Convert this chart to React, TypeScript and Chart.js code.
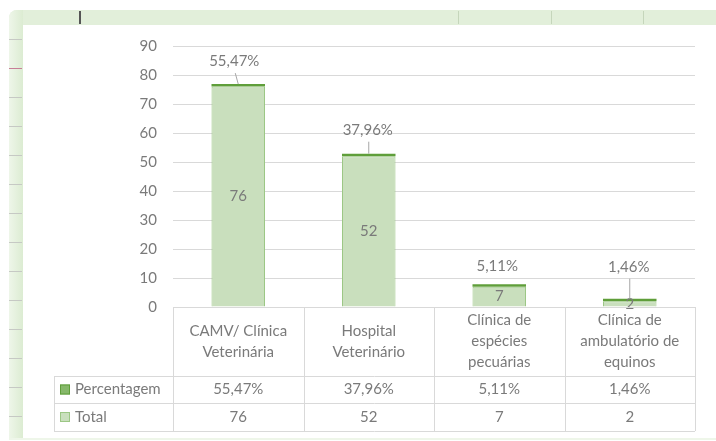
import React, { useEffect, useRef } from "react";
import { Chart, registerables } from "chart.js";

Chart.register(...registerables);

// ---- data ----
const categories: string[][] = [
  ["CAMV/ Clínica", "Veterinária"],
  ["Hospital", "Veterinário"],
  ["Clínica de", "espécies", "pecuárias"],
  ["Clínica de", "ambulatório de", "equinos"],
];
const totals = [76, 52, 7, 2];
const percentages = [55.47, 37.96, 5.11, 1.46];
const percentLabels = ["55,47%", "37,96%", "5,11%", "1,46%"];
const seriesNames = ["Percentagem", "Total"];
const yMin = 0;
const yMax = 90;
const yStep = 10;

// ---- styles ----
const FONT = 'Lato, "Open Sans", "Liberation Sans", sans-serif';
const FONT_SIZE = 15;
const TEXT = "#7a7a7a";
const GRID = "#d9d9d9";
const FILL = "#c9dfbd";
const BORDER = "#9cc785";
const DARK = "#5f9e3a";
const KEY_DARK_FILL = "#86b86a";
const LABEL_LIFT = [23, 24, 18, 32];
const LABEL_SHIFT = [-4, -1, -2, -1];

const tablePlugin = {
  id: "excelTable",
  afterDraw(chart: any) {
    const { ctx, chartArea } = chart;
    const x = chart.scales.x;
    const left = chartArea.left;
    const right = chartArea.right;
    const top = chartArea.bottom;
    const headerBottom = top + 69;
    const row1Bottom = headerBottom + 27;
    const row2Bottom = row1Bottom + 28;
    const legendLeft = 54;
    const n = categories.length;
    const step = (right - left) / n;

    ctx.save();
    ctx.strokeStyle = GRID;
    ctx.lineWidth = 1;
    const h = (x1: number, x2: number, y: number) => {
      ctx.beginPath();
      ctx.moveTo(x1, Math.round(y) + 0.5);
      ctx.lineTo(x2, Math.round(y) + 0.5);
      ctx.stroke();
    };
    const v = (xx: number, y1: number, y2: number) => {
      ctx.beginPath();
      ctx.moveTo(Math.round(xx) + 0.5, y1);
      ctx.lineTo(Math.round(xx) + 0.5, y2);
      ctx.stroke();
    };
    h(left, right, top);
    h(legendLeft, right, headerBottom);
    h(legendLeft, right, row1Bottom);
    h(legendLeft, right, row2Bottom);
    for (let i = 0; i <= n; i++) v(left + i * step, top, row2Bottom);
    v(legendLeft, headerBottom, row2Bottom);

    ctx.fillStyle = TEXT;
    ctx.font = FONT_SIZE + "px " + FONT;
    ctx.textAlign = "center";
    ctx.textBaseline = "middle";
    const headerMid = (top + headerBottom) / 2;
    const r1 = (headerBottom + row1Bottom) / 2;
    const r2 = (row1Bottom + row2Bottom) / 2;
    categories.forEach((lines, i) => {
      const cx = x.getPixelForValue(i);
      const lh = 21;
      const start = headerMid - ((lines.length - 1) * lh) / 2;
      lines.forEach((ln, j) => ctx.fillText(ln, cx, start + j * lh));
      ctx.fillText(percentLabels[i], cx, r1);
      ctx.fillText(String(totals[i]), cx, r2);
    });

    // legend keys
    ctx.textAlign = "left";
    const keyX = 60;
    const drawKey = (cy: number, fill: string, stroke: string) => {
      ctx.fillStyle = fill;
      ctx.fillRect(keyX, cy - 5, 10, 10);
      ctx.strokeStyle = stroke;
      ctx.strokeRect(keyX + 0.5, cy - 4.5, 9, 9);
    };
    drawKey(r1, KEY_DARK_FILL, DARK);
    drawKey(r2, FILL, BORDER);
    ctx.fillStyle = TEXT;
    ctx.fillText(seriesNames[0], 75, r1);
    ctx.fillText(seriesNames[1], 75, r2);
    ctx.restore();
  },
};

const labelPlugin = {
  id: "barLabels",
  afterDatasetsDraw(chart: any) {
    const { ctx } = chart;
    const totalMeta = chart.getDatasetMeta(0);
    const pctMeta = chart.getDatasetMeta(1);
    ctx.save();
    ctx.font = FONT_SIZE + "px " + FONT;
    ctx.fillStyle = TEXT;
    ctx.textAlign = "center";
    ctx.textBaseline = "middle";
    totalMeta.data.forEach((el: any, i: number) => {
      ctx.fillText(String(totals[i]), el.x, (el.y + el.base) / 2);
    });
    pctMeta.data.forEach((el: any, i: number) => {
      const tx = el.x + LABEL_SHIFT[i];
      const ty = el.y - LABEL_LIFT[i];
      ctx.fillText(percentLabels[i], tx, ty);
      if (LABEL_LIFT[i] > 20) {
        ctx.strokeStyle = "#a6a6a6";
        ctx.lineWidth = 1;
        ctx.beginPath();
        ctx.moveTo(tx + 1, ty + 12);
        ctx.lineTo(el.x, el.y);
        ctx.stroke();
      }
    });
    ctx.restore();
  },
};

function Frame() {
  const ticks: number[] = [];
  for (let y = 39; y < 438; y += 29) ticks.push(y);
  return (
    <>
      <div style={{ position: "absolute", left: 9, top: 10, width: 707, height: 15, background: "#e2efda", borderTopLeftRadius: 8 }} />
      <div style={{ position: "absolute", left: 9, top: 10, width: 14, height: 429, background: "linear-gradient(to right, #eef6e9, #dcecd2)", borderTopLeftRadius: 8 }} />
      <div style={{ position: "absolute", left: 23, top: 25, width: 693, height: 413, background: "#ffffff" }} />
      <div style={{ position: "absolute", left: 9, top: 438, width: 707, height: 2, background: "#eef6e9" }} />
      {ticks.map((y, i) => (
        <div key={y} style={{ position: "absolute", left: 9, top: y, width: 13, height: 1, background: i === 1 ? "#c77f97" : "#c6c9c4" }} />
      ))}
      <div style={{ position: "absolute", left: 79, top: 11, width: 2, height: 13, background: "#555" }} />
      {[458, 551, 643].map((x) => (
        <div key={x} style={{ position: "absolute", left: x, top: 11, width: 1, height: 13, background: "#c5d6bb" }} />
      ))}
    </>
  );
}

export default function App() {
  const ref = useRef<HTMLCanvasElement | null>(null);
  useEffect(() => {
    if (!ref.current) return;
    const chart = new Chart(ref.current, {
      type: "bar",
      data: {
        labels: categories.map((c) => c.join(" ")),
        datasets: [
          {
            label: seriesNames[1],
            data: totals,
            backgroundColor: FILL,
            borderColor: BORDER,
            borderWidth: 1,
            barPercentage: 0.41,
            categoryPercentage: 1,
          },
          {
            label: seriesNames[0],
            data: percentages.map((p) => p / 100),
            backgroundColor: DARK,
            borderWidth: 0,
            minBarLength: 2.5,
            barPercentage: 0.41,
            categoryPercentage: 1,
          },
        ],
      },
      options: {
        animation: false,
        responsive: false,
        layout: { padding: { left: 0, right: 21, top: 46, bottom: 134 } },
        plugins: { legend: { display: false }, tooltip: { enabled: false } },
        scales: {
          x: { stacked: true, display: false },
          y: {
            stacked: true,
            min: yMin,
            max: yMax,
            ticks: { stepSize: yStep, color: TEXT, font: { size: FONT_SIZE, family: FONT }, padding: 16 },
            grid: { color: GRID, drawTicks: false },
            border: { display: false },
            afterFit: (s: any) => {
              s.width = 173;
            },
          },
        },
      },
      plugins: [labelPlugin, tablePlugin],
    });
    return () => chart.destroy();
  }, []);
  return (
    <div style={{ position: "absolute", left: 0, top: 0, width: 716, height: 441, background: "#fff", overflow: "hidden" }}>
      <Frame />
      <canvas ref={ref} width={716} height={441} style={{ position: "absolute", left: 0, top: 0 }} />
    </div>
  );
}
